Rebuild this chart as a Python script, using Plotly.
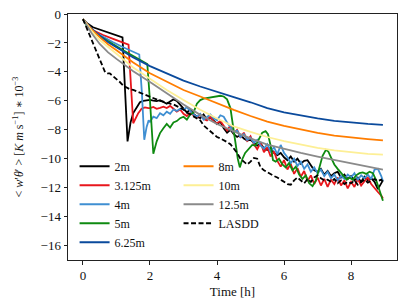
import numpy as np
import plotly.graph_objects as go

# ---------------- data ----------------
grid_t = [round(2.0 + 0.1 * i, 2) for i in range(70)] + [8.95]

smooth_t = [0, 0.25, 0.5, 0.75, 1, 1.5, 2, 2.5, 3, 3.5, 4, 4.5, 5, 5.5, 6, 6.5, 7, 7.5, 8, 8.5, 8.95]

# 2m
black_t = [0, 0.1, 0.3, 0.6, 0.9, 1.18, 1.33, 1.42, 1.5, 1.6, 1.7, 1.8, 1.9] + grid_t
black_y = [-0.35, -0.6, -0.92, -1.15, -1.38, -1.62, -8.8, -7.5, -6.85, -6.5, -6.1, -6.0, -5.95,
           -5.93, -5.98, -6.02, -5.95, -6.1, -6.2, -6.05, -5.9, -6.0, -6.25,
           -6.5, -6.8, -6.6, -6.9, -7.1, -7.2, -6.95, -7.3, -7.15, -7.4,
           -7.6, -7.45, -7.9, -8.2, -8.0, -8.3, -8.5, -8.35, -8.6, -8.75,
           -8.7, -8.9, -9.1, -8.95, -9.3, -9.4, -9.25, -9.6, -9.75, -9.6,
           -9.9, -10.1, -9.85, -10.2, -10.0, -10.35, -10.15, -10.1, -10.5, -10.8,
           -10.9, -10.7, -11.1, -10.85, -11.2, -11.0, -10.9, -11.3, -11.1, -11.4,
           -11.2, -11.5, -11.3, -11.6, -11.25, -11.5, -11.35, -11.6, -12.1, -11.7,
           -11.5]

# 3.125m
red_t = [0, 0.1, 0.3, 0.6, 0.9, 1.2, 1.36, 1.5, 1.58, 1.65, 1.75, 1.85, 1.95] + grid_t
red_y = [-0.35, -0.7, -1.12, -1.45, -1.72, -1.98, -2.12, -7.55, -7.2, -6.85, -6.55, -6.45, -6.5,
         -6.5, -6.42, -6.55, -6.48, -6.4, -6.5, -6.35, -6.55, -6.75, -6.6,
         -6.9, -7.05, -6.85, -7.0, -7.15, -6.95, -7.25, -7.35, -7.1, -7.45,
         -7.55, -7.4, -7.75, -8.05, -7.7, -8.25, -8.0, -8.55, -8.2, -8.75,
         -8.45, -9.0, -9.35, -8.9, -9.55, -9.2, -9.85, -9.5, -10.15, -10.55,
         -10.1, -10.75, -10.35, -11.05, -10.65, -11.25, -10.85, -11.55, -11.15, -11.75,
         -11.3, -11.85, -11.4, -11.95, -11.45, -11.75, -11.3, -11.85, -11.5, -12.05,
         -11.6, -11.95, -11.4, -11.85, -11.55, -11.3, -11.75, -12.05, -12.3, -12.55,
         -12.75]

# 4m
lblue_t = [0, 0.1, 0.3, 0.6, 0.9, 1.2, 1.5, 1.68, 1.76, 1.83, 1.9, 1.96] + grid_t
lblue_y = [-0.35, -0.75, -1.2, -1.6, -1.95, -2.3, -2.6, -2.8, -5.5, -8.69, -7.8, -7.35,
           -7.45, -7.1, -7.2, -6.85, -7.0, -6.75, -6.9, -6.6, -6.7, -6.55,
           -6.6, -6.45, -6.7, -6.95, -7.1, -6.9, -7.3, -7.15, -6.95, -7.2,
           -7.35, -7.0, -7.1, -7.5, -7.8, -8.2, -8.05, -8.5, -8.3, -8.7,
           -8.55, -8.9, -8.7, -9.1, -9.3, -9.0, -9.5, -9.2, -9.7, -9.05,
           -9.6, -9.9, -10.3, -10.0, -10.5, -10.2, -10.7, -10.4, -10.9, -10.6,
           -11.0, -10.75, -11.2, -10.9, -11.35, -11.1, -11.5, -11.2, -11.4, -11.1,
           -11.3, -11.0, -11.45, -11.15, -11.35, -11.1, -11.4, -10.75, -10.7, -11.2,
           -11.55]

# 5m
green_t = [0, 0.1, 0.3, 0.6, 0.9, 1.2, 1.5, 1.75, 1.92, 2.0, 2.1, 2.2, 2.3, 2.4, 2.5, 2.6, 2.7, 2.8,
           2.9, 3.0, 3.1, 3.2, 3.3, 3.4, 3.5, 3.6, 3.7, 3.8, 3.9, 4.0, 4.1, 4.2, 4.3, 4.4, 4.47,
           4.55, 4.62, 4.68, 4.76, 4.84, 4.95, 5.05, 5.15, 5.25, 5.35, 5.45, 5.52, 5.6, 5.67,
           5.75, 5.85, 5.95, 6.05, 6.15, 6.25, 6.35, 6.45, 6.55, 6.65, 6.75, 6.85, 6.95, 7.05,
           7.15, 7.25, 7.32, 7.4, 7.5, 7.6, 7.7, 7.8, 7.87, 7.95, 8.05, 8.15, 8.25, 8.35, 8.45,
           8.55, 8.65, 8.75, 8.85, 8.95]
green_y = [-0.35, -0.78, -1.25, -1.7, -2.1, -2.5, -2.9, -3.2, -3.45, -6.0, -9.66, -8.8, -8.23, -7.9,
           -7.6, -7.85, -7.5, -7.4, -7.2, -7.1, -7.3, -6.95, -6.8, -6.2, -5.95, -5.85, -5.8, -5.75,
           -5.72, -5.7, -5.65, -5.7, -5.9, -6.5, -7.6, -9.0, -10.0, -10.6, -10.0, -9.6, -9.3,
           -9.05, -9.1, -8.6, -8.2, -8.1, -8.3, -9.1, -10.1, -10.2, -10.0, -10.4, -10.6, -10.3,
           -10.8, -10.55, -11.1, -11.4, -11.15, -11.7, -11.9, -11.5, -10.6, -9.8, -9.38, -9.5,
           -9.9, -10.4, -10.7, -11.0, -11.3, -11.45, -11.3, -11.45, -11.15, -11.0, -10.95,
           -11.05, -10.9, -11.0, -11.5, -12.2, -12.9]

# smooth series
dblue_y = [-0.35, -1.0, -1.5, -1.95, -2.3, -3.0, -3.6, -4.1, -4.6, -5.01, -5.4, -5.75, -6.1,
           -6.51, -6.8, -7.03, -7.22, -7.38, -7.5, -7.59, -7.66]
orange_y = [-0.35, -1.05, -1.6, -2.1, -2.5, -3.35, -4.1, -4.7, -5.25, -5.7, -6.18, -6.62, -7.05,
            -7.43, -7.73, -8.0, -8.22, -8.41, -8.55, -8.64, -8.74]
yellow_y = [-0.35, -1.15, -1.8, -2.3, -2.75, -3.7, -4.5, -5.25, -5.95, -6.62, -7.22, -7.77, -8.15,
            -8.5, -8.78, -9.03, -9.25, -9.43, -9.57, -9.66, -9.72]
gray_y = [-0.35, -1.3, -2.07, -2.65, -3.1, -3.95, -4.7, -5.5, -6.25, -6.97, -7.6, -8.11, -8.6,
          -9.03, -9.33, -9.6, -9.85, -10.07, -10.3, -10.53, -10.76]

# LASDD
lasdd_t = [0, 0.1, 0.2, 0.31, 0.4, 0.51, 0.58, 0.66, 0.73, 0.8, 0.9, 1.0, 1.1, 1.2, 1.3, 1.4,
           1.5, 1.6, 1.7, 1.8, 1.9] + grid_t
lasdd_y = [-0.35, -0.9, -1.5, -2.07, -2.6, -3.2, -3.6, -4.02, -4.1, -4.1, -4.3, -4.48, -4.7,
           -4.94, -5.1, -5.2, -5.25, -5.35, -5.4, -5.5, -5.6,
           -5.7, -5.8, -5.9, -6.0, -6.05, -6.15, -6.2, -6.25, -6.35, -6.45,
           -6.6, -6.8, -6.95, -7.1, -7.2, -7.35, -7.7, -7.9, -8.1, -8.3,
           -8.5, -8.6, -8.7, -8.85, -9.0, -9.3, -9.6, -10.0, -10.2, -10.4,
           -10.2, -9.95, -10.0, -10.6, -10.8, -10.95, -11.1, -11.2, -11.3, -11.45,
           -11.6, -11.75, -11.8, -11.5, -11.3, -11.5, -11.7, -11.4, -11.6, -11.3,
           -11.15, -11.35, -11.5, -11.45, -11.6, -11.4, -11.7, -11.5, -11.75, -11.6,
           -11.7, -11.5, -11.8, -11.6, -11.45, -11.65, -11.5, -11.4, -11.55, -11.45,
           -11.6]

x_ticks = [0, 2, 4, 6, 8]
y_ticks = [0, -2, -4, -6, -8, -10, -12, -14, -16]

FONT = "'Liberation Serif', 'Times New Roman', 'DejaVu Serif', serif"

series = [
    ("2m", black_t, black_y, "#000000", "solid", "legend", 1),
    ("3.125m", red_t, red_y, "#e8161c", "solid", "legend", 2),
    ("4m", lblue_t, lblue_y, "#3f8fd2", "solid", "legend", 3),
    ("5m", green_t, green_y, "#0e8a10", "solid", "legend", 4),
    ("6.25m", smooth_t, dblue_y, "#0a4a9c", "solid", "legend", 5),
    ("8m", smooth_t, orange_y, "#ff7d00", "solid", "legend2", 6),
    ("10m", smooth_t, yellow_y, "#fdef95", "solid", "legend2", 7),
    ("12.5m", smooth_t, gray_y, "#8a8a8a", "solid", "legend2", 8),
    ("LASDD", lasdd_t, lasdd_y, "#000000", "5px,2.5px", "legend2", 9),
]

fig = go.Figure()
for name, t, y, col, dash, leg, rank in series:
    fig.add_trace(go.Scatter(x=t, y=y, mode="lines", name=name,
                             line=dict(color=col, width=1.8, dash=dash),
                             legend=leg, legendrank=rank))

legend_common = dict(font=dict(family=FONT, size=12, color="#111"), bgcolor="rgba(0,0,0,0)",
                     borderwidth=0, tracegroupgap=0, yanchor="top", xanchor="left",
                     itemwidth=30)

# page body has an 8px margin, so the figure is drawn 8px smaller and offset
fig.update_layout(
    width=399, height=297,
    margin=dict(l=60, r=10, t=6, b=45, autoexpand=False),
    paper_bgcolor="white", plot_bgcolor="white",
    font=dict(family=FONT, size=13, color="#111"),
    legend=dict(x=0.02, y=0.44, **legend_common),
    legend2=dict(x=0.336, y=0.44, **legend_common),
    xaxis=dict(range=[-0.446, 9.37], tickvals=x_ticks, ticks="outside", ticklen=3.5,
               tickcolor="#222", showgrid=False, zeroline=False, showline=True,
               linecolor="#222", linewidth=1, mirror=True, automargin=False,
               ticklabeloverflow="allow",
               title=dict(text="Time [h]", standoff=4, font=dict(family=FONT, size=13))),
    yaxis=dict(range=[-17, 0], tickvals=y_ticks, ticks="outside", ticklen=3.5,
               tickcolor="#222", showgrid=False, zeroline=False, showline=True,
               linecolor="#222", linewidth=1, mirror=True, automargin=False,
               ticklabeloverflow="allow",
               title=dict(text="&lt; <i>w</i>′<i>θ</i>′ &gt; [<i>K m</i> s<sup>−1</sup>] ∗ 10<sup>−3</sup>",
                          standoff=14, font=dict(family=FONT, size=12))),
)

fig.write_html("out.html")
